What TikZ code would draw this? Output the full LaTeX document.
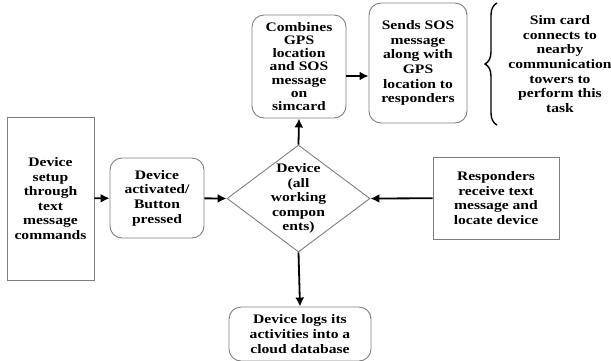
\documentclass[tikz,border=0pt]{standalone}
\usepackage{fontspec}
\setmainfont{Liberation Serif}[FakeStretch=1.2]
\usepackage{tikz}
\usetikzlibrary{arrows.meta,positioning,shapes.geometric,decorations.pathreplacing}
\definecolor{boxGray}{HTML}{7F7F7F}

\begin{document}
\begin{tikzpicture}[
  x=1pt,y=-1pt,
  every node/.style={font=\fontsize{13}{14.6}\selectfont\bfseries, align=center},
  plain/.style={draw=boxGray,line width=0.9pt,inner sep=0pt},
  rounded/.style={plain,rounded corners=12pt},
  decision/.style={draw=boxGray,line width=0.9pt,diamond,inner sep=0pt,minimum width=143pt,minimum height=107pt},
  arrow/.style={-{Latex[length=9pt,width=9pt]},line width=1.8pt,color=black}
]
\useasboundingbox (0,0) rectangle (611,360);

% Fila central
\node[plain,minimum width=87pt,minimum height=163pt] (setup) at (50.5,198.5) {Device\\setup\\through\\text\\message\\commands};
\node[rounded,minimum width=94pt,minimum height=80pt] (activ) at (157,198) {Device\\activated/\\Button\\pressed};
\node[decision] (dev) at (298.5,198.5) {};
\node (devtxt) at (dev.center) {Device\\(all\\working\\compon\\ents)};
\node[plain,minimum width=126pt,minimum height=82pt] (resp) at (496,198) {Responders\\receive text\\message and\\locate device};

% Fila superior
\node[rounded,minimum width=94pt,minimum height=103pt,font=\fontsize{13}{13.3}\selectfont\bfseries] (combine) at (299,66.5) {Combines\\GPS\\location\\and SOS\\message\\on\\simcard};
\node[rounded,minimum width=98pt,minimum height=120pt] (sends) at (418,63) {Sends SOS\\message\\along with\\GPS\\location to\\responders};
\node (sim) at (560,64) {Sim card\\connects to\\nearby\\communication\\towers to\\perform this\\task};
\coordinate (braceBot) at (497,125);
\coordinate (braceTop) at (497,3);

% Fila inferior
\node[rounded,minimum width=142pt,minimum height=54pt] (logs) at (300,334) {Device logs its\\activities into a\\cloud database};

% Conexiones
\draw[arrow] (setup) -- (activ);
\draw[arrow] (activ) -- (dev.west);
\draw[arrow] (resp) -- (dev.east);
\draw[arrow] (dev.north) -- (combine.south);
\draw[arrow] (dev.south) -- (logs.north);
\draw[arrow] ([yshift=-9.5pt]combine.east) -- ([yshift=-9.5pt]combine.east -| sends.west);
\draw[line width=1.4pt,decorate,decoration={brace,amplitude=12pt}] (braceBot) -- (braceTop);
\end{tikzpicture}
\end{document}
